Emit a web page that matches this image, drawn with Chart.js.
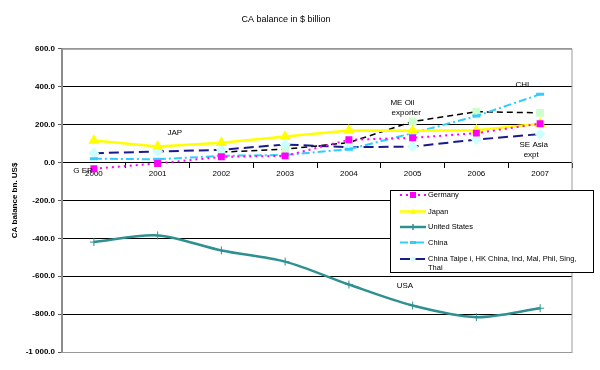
<!DOCTYPE html>
<html>
<head>
<meta charset="utf-8">
<script src="https://cdn.jsdelivr.net/npm/chart.js@4/dist/chart.umd.min.js"></script>
<style>
  html, body { margin: 0; padding: 0; background: #fff; }
</style>
</head>
<body>
<canvas id="c" width="600" height="370"></canvas>
<script>
var years = ["2000", "2001", "2002", "2003", "2004", "2005", "2006", "2007"];

var germany = [-33, -5, 30, 35, 120, 130, 155, 205];
var japan = [116, 85, 104, 137, 169, 167, 170, 205];
var unitedStates = [-420, -385, -464, -523, -644, -755, -816, -769];
var china = [20, 17, 35, 40, 70, 155, 245, 360];
var seAsia = [49, 58, 67, 95, 81, 84, 121, 150];
var meOil = [null, null, 55, 70, 105, 216, 268, 262];

var yTicks = [600, 400, 200, 0, -200, -400, -600, -800, -1000];

// text labels on the plot: category index (can be fractional) and value
var notes = [
  { text: "G ER", i: -0.17, v: -42 },
  { text: "JAP", i: 1.27, v: 158 },
  { text: "ME Oil", i: 4.84, v: 317 },
  { text: "exporter", i: 4.90, v: 264 },
  { text: "CHI", i: 6.72, v: 412 },
  { text: "SE Asia", i: 6.90, v: 95 },
  { text: "expt", i: 6.86, v: 42 },
  { text: "USA", i: 4.88, v: -650 }
];

var FONT = "'Liberation Sans', Arial, sans-serif";

function fmt(v) {
  var s = Math.abs(v).toFixed(1);
  var parts = s.split(".");
  var intPart = parts[0].replace(/\B(?=(\d{3})+(?!\d))/g, " ");
  return (v < 0 ? "-" : "") + intPart + "." + parts[1];
}

function drawMarker(ctx, style, cx, cy, r, fill, stroke) {
  ctx.save();
  ctx.setLineDash([]);
  ctx.fillStyle = fill;
  ctx.strokeStyle = stroke;
  ctx.lineWidth = 1.5;
  ctx.beginPath();
  if (style === "rect") {
    ctx.fillRect(cx - r, cy - r, 2 * r, 2 * r);
  } else if (style === "triangle") {
    ctx.moveTo(cx, cy - r);
    ctx.lineTo(cx + r, cy + r * 0.8);
    ctx.lineTo(cx - r, cy + r * 0.8);
    ctx.closePath();
    ctx.fill();
  } else if (style === "cross") {
    ctx.moveTo(cx - r, cy); ctx.lineTo(cx + r, cy);
    ctx.moveTo(cx, cy - r); ctx.lineTo(cx, cy + r);
    ctx.stroke();
  } else if (style === "line") {
    ctx.lineWidth = 3;
    ctx.moveTo(cx - r, cy); ctx.lineTo(cx + r, cy);
    ctx.stroke();
  } else if (style === "rectRot") {
    ctx.moveTo(cx, cy - r); ctx.lineTo(cx + r, cy);
    ctx.lineTo(cx, cy + r); ctx.lineTo(cx - r, cy);
    ctx.closePath();
    ctx.fill();
  }
  ctx.restore();
}

var plotBorder = {
  id: "plotBorder",
  beforeDatasetsDraw: function(chart) {
    var a = chart.chartArea, ctx = chart.ctx;
    ctx.save();
    ctx.strokeStyle = "#999";
    ctx.lineWidth = 1;
    ctx.strokeRect(a.left, a.top + 0.5, a.right - a.left, a.bottom - a.top);
    ctx.restore();
  }
};

var noteLabels = {
  id: "noteLabels",
  afterDatasetsDraw: function(chart) {
    var ctx = chart.ctx, xs = chart.scales.x, ys = chart.scales.y;
    ctx.save();
    ctx.font = "8px " + FONT;
    ctx.fillStyle = "#000";
    ctx.textAlign = "center";
    ctx.textBaseline = "middle";
    notes.forEach(function(n) {
      ctx.fillText(n.text, xs.getPixelForValue(n.i), ys.getPixelForValue(n.v));
    });
    ctx.restore();
  }
};

var boxLegend = {
  id: "boxLegend",
  afterDraw: function(chart) {
    var ctx = chart.ctx;
    var bx = 390.5, by = 190.5, bw = 203, bh = 82;
    ctx.save();
    ctx.fillStyle = "#fff";
    ctx.fillRect(bx, by, bw, bh);
    ctx.strokeStyle = "#000";
    ctx.lineWidth = 1;
    ctx.strokeRect(bx, by, bw, bh);
    var rows = [195, 211.5, 227, 242.5, 259];
    ctx.font = "7.5px " + FONT;
    ctx.textBaseline = "middle";
    for (var k = 0; k < rows.length; k++) {
      var ds = chart.data.datasets[k];
      var y = rows[k];
      ctx.save();
      ctx.strokeStyle = ds.borderColor;
      ctx.lineWidth = ds.borderWidth;
      ctx.setLineDash(ds.borderDash || []);
      ctx.beginPath();
      ctx.moveTo(400, y);
      ctx.lineTo(426, y);
      ctx.stroke();
      ctx.restore();
      drawMarker(ctx, ds.pointStyle, 413, y, 3,
        ds.pointBackgroundColor, ds.pointBorderColor);
      ctx.fillStyle = "#000";
      var lines = ds.legendLines || [ds.label];
      for (var j = 0; j < lines.length; j++) {
        ctx.fillText(lines[j], 428, y + j * 9);
      }
    }
    ctx.restore();
  }
};

new Chart(document.getElementById("c"), {
  type: "line",
  data: {
    labels: years,
    datasets: [
      {
        label: "Germany",
        data: germany,
        borderColor: "#ff00ff",
        borderWidth: 2,
        borderDash: [2, 4],
        pointStyle: "rect",
        pointRadius: 3.5,
        pointBackgroundColor: "#ff00ff",
        pointBorderColor: "#ff00ff",
        tension: 0
      },
      {
        label: "Japan",
        data: japan,
        borderColor: "#ffff00",
        borderWidth: 2.5,
        pointStyle: "triangle",
        pointRadius: 4,
        pointBackgroundColor: "#ffff00",
        pointBorderColor: "#ffff00",
        tension: 0
      },
      {
        label: "United States",
        data: unitedStates,
        borderColor: "#2f9090",
        borderWidth: 2.5,
        pointStyle: "cross",
        pointRadius: 4,
        pointBorderWidth: 1,
        pointBackgroundColor: "#2f9090",
        pointBorderColor: "#2f9090",
        tension: 0.3
      },
      {
        label: "China",
        data: china,
        borderColor: "#33ccff",
        borderWidth: 2,
        borderDash: [8, 3, 2, 3],
        pointStyle: "line",
        pointRadius: 4,
        pointBorderWidth: 3,
        pointBackgroundColor: "#33ccff",
        pointBorderColor: "#33ccff",
        tension: 0
      },
      {
        label: "China Taipei, HK China, Ind, Mal, Phil, Sing, Thai",
        legendLines: ["China Taipe i, HK China, Ind, Mal, Phil, Sing,", "Thai"],
        data: seAsia,
        borderColor: "#1a1a8c",
        borderWidth: 2,
        borderDash: [10, 5],
        pointStyle: "rectRot",
        pointRadius: 4,
        pointBackgroundColor: "#ccffff",
        pointBorderColor: "#ccffff",
        tension: 0
      },
      {
        label: "ME Oil exporter",
        data: meOil,
        borderColor: "#000",
        borderWidth: 1.5,
        borderDash: [6, 4],
        pointStyle: "rect",
        pointRadius: 4.5,
        pointBackgroundColor: "#ccffcc",
        pointBorderColor: "#ccffcc",
        tension: 0
      }
    ]
  },
  options: {
    responsive: false,
    animation: false,
    layout: { padding: { left: 0, right: 28, top: 0, bottom: 18 } },
    plugins: {
      legend: { display: false },
      tooltip: { enabled: false },
      title: {
        display: true,
        text: "CA balance in $ billion",
        color: "#000",
        font: { size: 9, family: FONT, weight: "normal" },
        padding: { top: 14, bottom: 24 }
      }
    },
    scales: {
      x: {
        type: "category",
        position: { y: 0 },
        offset: true,
        grid: { offset: true, drawOnChartArea: false, drawTicks: true, tickLength: 5, color: "#000" },
        border: { display: false },
        ticks: { color: "#000", font: { size: 8, family: FONT }, padding: 1, maxRotation: 0 }
      },
      y: {
        min: -1000,
        max: 600,
        afterBuildTicks: function(s) { s.ticks = yTicks.map(function(v) { return { value: v }; }); },
        afterFit: function(s) { s.width = 62; },
        ticks: {
          color: "#000",
          font: { size: 8, family: FONT, weight: "bold" },
          padding: 3,
          callback: function(v) { return fmt(v); }
        },
        grid: {
          color: function(c) { return (c.tick.value === 600 || c.tick.value === -1000) ? "#999" : "#000"; },
          tickColor: "#555",
          tickLength: 4
        },
        border: { color: "#808080", width: 2 },
        title: {
          display: true,
          text: "CA balance bn. US$",
          color: "#000",
          font: { size: 8, family: FONT, weight: "bold" },
          padding: { top: 10, bottom: 0 }
        }
      }
    }
  },
  plugins: [plotBorder, noteLabels, boxLegend]
});
</script>
</body>
</html>
